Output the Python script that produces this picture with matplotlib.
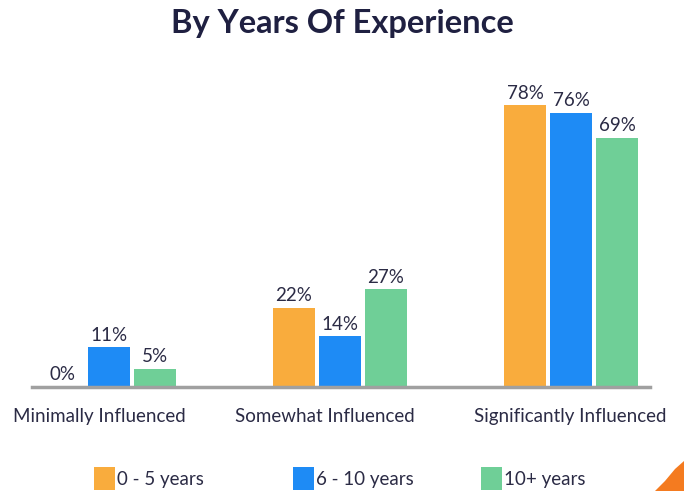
import numpy as np
import matplotlib.pyplot as plt
from matplotlib.patches import Polygon, Rectangle

# Data
categories = ["Minimally Influenced", "Somewhat Influenced", "Significantly Influenced"]
series_names = ["0 - 5 years", "6 - 10 years", "10+ years"]
vals_0_5 = [0, 22, 78]
vals_6_10 = [11, 14, 76]
vals_10_plus = [5, 27, 69]

colors = ["#F9AC3D", "#1E8BF5", "#6FCF97"]
TEXT = "#2B2B45"
TITLE = "#1F2041"

plt.rcParams["font.family"] = ["Lato", "DejaVu Sans"]

fig = plt.figure(figsize=(6.84, 4.91), dpi=100)
W, H = 684, 491
# axes box in pixel terms: left 32, right 650, baseline y=387
ax = fig.add_axes([32 / W, (H - 387) / H, 618 / W, 307 / H])
ax.set_xlim(-0.333, 2.342)
ax.set_ylim(0, 85)

x = np.arange(len(categories))
bw = 42 / 231
step = 46 / 231
all_vals = [vals_0_5, vals_6_10, vals_10_plus]
for i, (vals, c, name) in enumerate(zip(all_vals, colors, series_names)):
    xs = x + (i - 1) * step
    ax.bar(xs, vals, width=bw, color=c, label=name, zorder=2)
    for xi, v in zip(xs, vals):
        ax.text(xi, v + 1.0, f"{v}%", ha="center", va="bottom",
                fontsize=13.5, color=TEXT)

for s in ["top", "right", "left"]:
    ax.spines[s].set_visible(False)
ax.spines["bottom"].set_color("#A0A0A0")
ax.spines["bottom"].set_linewidth(2.5)
ax.spines["bottom"].set_zorder(3)
ax.set_yticks([])
# category labels sit slightly left of the group centres in the original
label_shift = np.array([-10, -15, -1]) / 231
ax.set_xticks(x + label_shift)
ax.set_xticklabels(categories, fontsize=13.5, color=TEXT)
ax.tick_params(axis="x", length=0, pad=15)

fig.text(0.5, 1 - 24 / H, "By Years Of Experience", ha="center", va="center",
         fontsize=23.5, fontweight="bold", color=TITLE)

# legend drawn by hand to match the spacing
leg_x = [94, 293, 481]
for lx, c, name in zip(leg_x, colors, series_names):
    fig.patches.append(Rectangle((lx / W, 1 - 490 / H), 21 / W, 23 / H,
                                 transform=fig.transFigure, facecolor=c,
                                 edgecolor="none"))
    fig.text((lx + 23) / W, 1 - 480 / H, name, ha="left", va="center",
             fontsize=13.5, color=TEXT)

# corner decoration
fig.patches.append(Polygon([[655 / W, 0], [684 / W, 0], [684 / W, 30 / H],
                            [675 / W, 22 / H], [665 / W, 10 / H]],
                           closed=True, transform=fig.transFigure,
                           facecolor="#F47B20", edgecolor="none"))

fig.savefig("out.png", dpi=100)
